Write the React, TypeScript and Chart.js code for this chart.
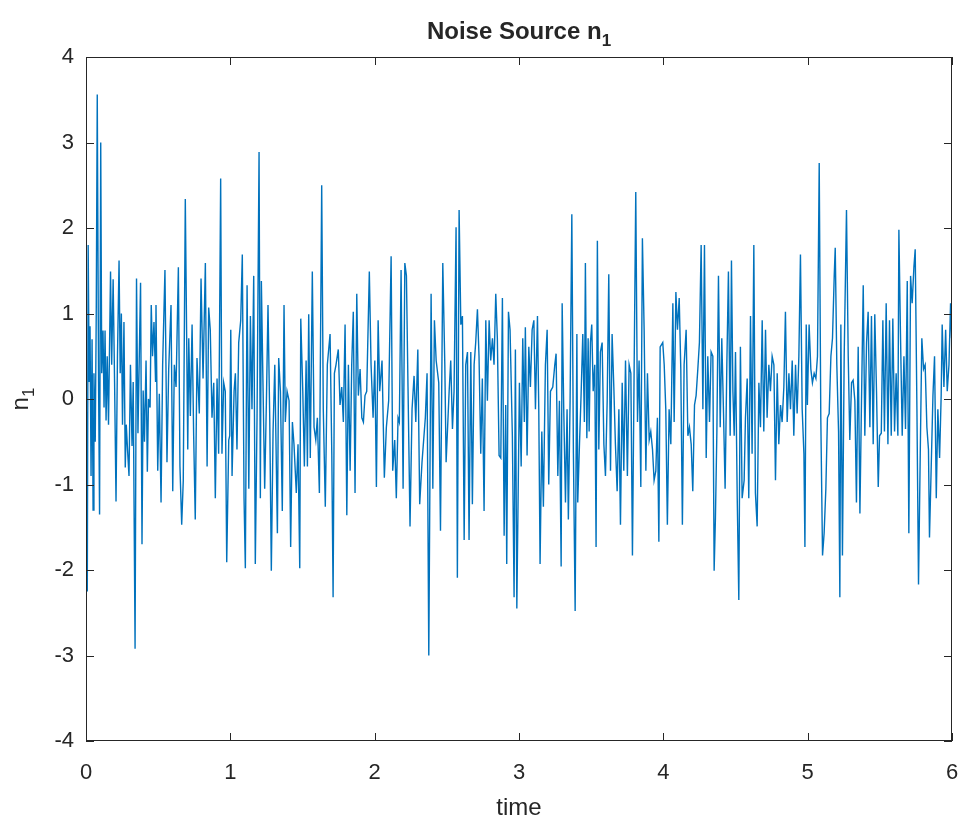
import React, { useEffect, useRef } from "react";
import { Chart, registerables } from "chart.js";

Chart.register(...registerables);

// ---- data ----
const timeS: number[] = [
  0.000, 0.009, 0.015, 0.022, 0.028, 0.035, 0.042, 0.049, 0.055, 0.064, 0.071, 0.078, 0.087, 0.094, 0.102, 0.109, 0.118, 0.125, 0.132, 0.139, 0.147, 0.156, 0.170, 0.178, 0.188, 0.198, 0.208, 0.218, 0.229, 0.237, 0.245, 0.253, 0.263, 0.272, 0.279, 0.288, 0.298, 0.308, 0.319, 0.327, 0.340, 0.350, 0.360, 0.378, 0.388, 0.396, 0.405, 0.416, 0.425, 0.433, 0.444, 0.452, 0.461, 0.471, 0.482,
  0.485, 0.497, 0.508, 0.520, 0.531, 0.547, 0.561, 0.573, 0.589, 0.601, 0.612, 0.624, 0.640, 0.651, 0.663, 0.674, 0.688, 0.705, 0.712, 0.723, 0.735, 0.746, 0.757, 0.769, 0.785, 0.797, 0.811, 0.827, 0.839, 0.850, 0.861, 0.873, 0.885, 0.896, 0.908, 0.919, 0.933, 0.942, 0.954, 0.965, 0.975, 0.989,
  0.996, 1.003, 1.012, 1.026, 1.035, 1.046, 1.058, 1.072, 1.083, 1.095, 1.104, 1.116, 1.128, 1.139, 1.150, 1.162, 1.173, 1.185, 1.199, 1.208, 1.215, 1.227, 1.238, 1.250, 1.261, 1.273, 1.284, 1.296, 1.308, 1.326, 1.335, 1.347, 1.360, 1.372, 1.381, 1.393, 1.407, 1.418, 1.430, 1.441, 1.457, 1.469, 1.481, 1.488,
  1.502, 1.513, 1.525, 1.534, 1.543, 1.554, 1.568, 1.580, 1.592, 1.603, 1.617, 1.633, 1.644, 1.658, 1.672, 1.691, 1.703, 1.712, 1.721, 1.732, 1.748, 1.760, 1.772, 1.783, 1.795, 1.807, 1.818, 1.830, 1.841, 1.852, 1.864, 1.876, 1.887, 1.899, 1.911, 1.922, 1.933, 1.945, 1.963, 1.975,
  1.989, 2.001, 2.012, 2.024, 2.035, 2.051, 2.067, 2.081, 2.097, 2.114, 2.125, 2.139, 2.150, 2.162, 2.171, 2.183, 2.197, 2.209, 2.220, 2.231, 2.245, 2.259, 2.273, 2.285, 2.299, 2.312, 2.328, 2.351, 2.363, 2.375, 2.391, 2.403, 2.414, 2.426, 2.444, 2.456, 2.472, 2.486, 2.495,
  2.516, 2.527, 2.539, 2.550, 2.564, 2.573, 2.585, 2.597, 2.608, 2.620, 2.631, 2.643, 2.654, 2.666, 2.677, 2.689, 2.700, 2.712, 2.723, 2.735, 2.746, 2.758, 2.770, 2.781, 2.793, 2.804, 2.816, 2.827, 2.839, 2.850, 2.862, 2.874, 2.885, 2.897, 2.908, 2.915, 2.927, 2.938, 2.954, 2.966, 2.975, 2.985,
  3.003, 3.015, 3.026, 3.037, 3.044, 3.056, 3.068, 3.079, 3.091, 3.103, 3.114, 3.128, 3.137, 3.146, 3.158, 3.169, 3.183, 3.195, 3.206, 3.218, 3.234, 3.248, 3.257, 3.269, 3.280, 3.292, 3.299, 3.310, 3.322, 3.333, 3.342, 3.354, 3.366, 3.377, 3.389, 3.401, 3.407, 3.419, 3.430, 3.442, 3.453, 3.460, 3.470, 3.479,
  3.486, 3.495, 3.504, 3.514, 3.525, 3.534, 3.543, 3.553, 3.564, 3.576, 3.588, 3.599, 3.611, 3.622, 3.634, 3.645, 3.657, 3.668, 3.680, 3.692, 3.703, 3.715, 3.726, 3.738, 3.751, 3.763, 3.775, 3.786, 3.798, 3.809, 3.821, 3.832, 3.844, 3.855, 3.867, 3.879, 3.890, 3.902, 3.913, 3.925, 3.936, 3.948, 3.959, 3.969, 3.978,
  3.996, 4.006, 4.017, 4.028, 4.040, 4.052, 4.066, 4.075, 4.087, 4.098, 4.110, 4.121, 4.132, 4.144, 4.158, 4.170, 4.181, 4.193, 4.204, 4.216, 4.227, 4.239, 4.250, 4.262, 4.274, 4.285, 4.297, 4.308, 4.320, 4.331, 4.343, 4.352, 4.361, 4.371, 4.382, 4.394, 4.405, 4.417, 4.428, 4.440, 4.451, 4.463, 4.472, 4.482,
  4.491, 4.500, 4.512, 4.523, 4.534, 4.546, 4.560, 4.569, 4.581, 4.592, 4.604, 4.615, 4.627, 4.638, 4.650, 4.662, 4.673, 4.685, 4.696, 4.708, 4.719, 4.731, 4.742, 4.754, 4.766, 4.777, 4.789, 4.800, 4.812, 4.823, 4.835, 4.846, 4.858, 4.870, 4.881, 4.893, 4.904, 4.916, 4.927, 4.939, 4.950, 4.962, 4.974, 4.981, 4.990,
  4.998, 5.010, 5.022, 5.033, 5.045, 5.057, 5.068, 5.080, 5.091, 5.103, 5.114, 5.126, 5.137, 5.149, 5.161, 5.172, 5.184, 5.191, 5.202, 5.214, 5.223, 5.230, 5.241, 5.253, 5.269, 5.281, 5.292, 5.304, 5.315, 5.327, 5.338, 5.350, 5.362, 5.373, 5.385, 5.396, 5.408, 5.419, 5.431, 5.442, 5.454, 5.465, 5.477, 5.489,
  5.498, 5.510, 5.521, 5.532, 5.544, 5.556, 5.567, 5.579, 5.590, 5.602, 5.613, 5.625, 5.632, 5.643, 5.655, 5.667, 5.678, 5.690, 5.701, 5.713, 5.724, 5.736, 5.745, 5.757, 5.768, 5.780, 5.791, 5.803, 5.814, 5.826, 5.837, 5.844, 5.856, 5.868, 5.879, 5.891, 5.902, 5.914, 5.925, 5.932, 5.944, 5.956, 5.967, 5.979, 5.990, 5.997,
];

const n1: number[] = [
  0.55, -2.25, 1.8, 0.2, 0.85, -0.9, 0.7, -1.3, 0.3, -0.5, 1.0, 3.56, 0.2, -1.35, 3.0, 0.3, 0.8, -0.1, 0.8, -0.25, 0.5, -0.3, 1.49, 0.4, 1.4, 0.2, -1.2, 0.5, 1.62, 0.3, 1.0, -0.3, 0.9, -0.8, -0.3, -0.6, -0.9, 0.4, -0.55, 0.2, -2.92, 1.41, -0.4, 1.36, -1.7, 0.1, -0.5, 0.45, -0.85, 0.0, -0.1, 1.1, 0.5, 0.9, 0.2,
  1.10, -0.84, 0.06, -1.21, 0.40, 1.51, -0.74, 0.35, 1.10, -1.08, 0.40, 0.14, 1.54, -0.79, -1.47, -0.95, 2.34, -0.59, 0.71, -0.20, 0.87, -0.43, -1.41, 0.48, -0.17, 1.41, 0.24, 1.59, -0.79, 1.07, 0.81, -0.22, 0.19, -1.16, 0.24, -0.64, 2.58, -0.64, 0.19, 0.09, -1.91, -0.48,
  -0.43, 0.81, -0.90, 0.09, 0.30, -0.59, 0.66, 0.92, 1.69, -1.16, -1.98, 1.33, -1.05, 0.97, -0.12, 1.44, -1.93, -0.22, 2.89, -1.16, 1.38, 0.09, -1.05, -0.02, 1.10, -0.22, -2.01, -0.38, 0.40, -1.57, 0.48, 0.09, -1.31, 1.10, -0.27, 0.09, -0.02, -1.73, -0.27, -0.53, -1.10, -0.53, -1.98, 0.94,
  0.09, -0.79, 0.45, -0.79, 0.99, -0.69, 1.49, -0.33, -0.48, -0.22, -1.10, 2.50, -0.12, -1.26, 0.40, 0.76, -0.64, -2.32, 0.30, 0.40, 0.58, -0.07, 0.14, -0.27, 0.87, -1.36, 0.40, -0.84, 0.40, 1.02, -1.10, 1.23, 0.04, 0.35, -0.22, -0.27, 0.04, 0.09, 1.49, 0.40,
  -0.22, 0.45, -1.03, 0.92, 0.09, 0.45, -0.92, -0.33, -0.02, 1.67, -0.84, -0.48, -1.16, -0.22, -0.27, 1.51, -1.05, 1.59, 1.44, 0.14, -1.49, -0.12, 0.27, -0.27, 0.58, -1.23, -0.74, -0.22, 0.30, -3.00, 1.23, -1.05, 0.92, 0.45, 0.19, -1.54, 1.59, 0.40, -0.74,
  0.09, 0.45, -0.35, 0.09, 2.01, -2.09, 2.21, 0.87, 0.97, -1.65, 0.40, 0.55, -1.65, 0.55, -1.23, 0.40, 0.66, 1.05, 0.50, -0.64, 0.24, -1.31, 0.92, -0.02, 0.92, 0.45, 0.71, 0.40, 1.23, 0.71, -0.66, -0.69, 1.18, -1.60, -0.07, -1.93, 1.02, 0.81, -0.43, -2.32, 0.58, -2.45,
  0.19, -0.79, 0.71, -0.27, 0.84, -0.66, 0.61, 0.14, 0.81, 0.92, -0.12, 0.97, -0.12, -1.93, -0.38, -1.26, 0.40, 0.81, -1.00, 0.09, 0.14, 0.40, 0.53, -0.90, -0.02, -1.96, 1.12, -0.12, -1.21, -0.12, -1.41, -0.02, 2.16, -0.64, -2.48, 0.76, -1.21, -0.53, 0.04, 0.76, -0.27, 1.59, -0.46, 0.71,
  -0.38, 0.66, 0.87, 0.09, 0.40, -1.73, 1.85, -0.59, 0.55, 0.66, -0.53, -0.90, -0.02, 1.46, -0.84, 0.76, 0.14, -0.53, -1.08, -0.12, -1.47, 0.19, -0.84, 0.45, -0.90, 0.40, 0.30, -1.83, 0.40, 2.42, -0.27, 0.45, -1.03, 1.88, 0.81, -0.84, 0.30, -0.48, -0.38, -0.59, -0.95, -0.84, -0.22, -1.67, 0.61,
  0.66, 0.40, -0.12, -1.47, -0.12, -0.53, 1.12, -0.27, 1.25, 0.81, 1.18, 0.35, -1.47, 0.40, 0.81, -0.43, -0.33, -0.53, -1.08, -0.07, 0.04, 0.35, 0.66, 1.80, -0.12, 1.80, -0.69, 0.50, -0.27, 0.55, 0.50, -2.01, -1.39, -0.38, 1.44, -0.33, 0.71, -0.17, -1.05, 0.40, 1.49, -0.43, 1.62, 0.09,
  -0.43, 0.55, -1.16, -2.35, 0.61, -1.16, -0.95, -0.22, 0.24, -1.16, 0.97, -0.64, 1.80, -1.10, -1.49, 0.19, -0.33, 0.92, -0.38, 0.81, -0.22, 0.40, 0.09, 0.50, 0.40, -0.95, 0.30, -0.53, -0.07, -0.27, 0.14, 1.02, -0.27, 0.30, -0.12, 0.45, -0.43, 0.40, -0.17, 0.50, 1.69, -0.12, -0.64, -1.73, 0.87,
  -0.07, 0.87, 0.35, 0.19, 0.30, 0.24, 0.50, 2.76, -0.22, -1.83, -1.57, -1.05, -0.22, -0.17, 0.50, 0.71, 1.44, 1.77, 0.40, -0.38, -2.32, 0.87, -1.83, 0.50, 2.21, 0.50, -0.48, 0.19, 0.22, -0.02, -1.21, 0.61, -1.34, -0.02, 1.33, -0.43, 0.66, 1.02, -0.33, 0.97, -0.53, 0.99, 0.09, -1.03,
  -0.43, -0.40, 0.92, -0.38, 1.12, -0.53, 0.92, -0.43, 0.94, -0.38, 0.30, -0.43, 1.98, 0.76, -0.43, 0.50, -0.35, 1.38, -1.57, 1.44, 1.12, 1.54, 1.75, -0.12, -2.17, -0.64, 0.71, 0.35, 0.40, -0.33, -0.59, -1.62, -0.79, 0.04, 0.50, -1.16, -0.12, -0.69, 0.04, 0.87, 0.14, 0.81, 0.09, 0.40, 1.12, 0.71,
];

const xTicks: number[] = [0, 1, 2, 3, 4, 5, 6];
const yTicks: number[] = [-4, -3, -2, -1, 0, 1, 2, 3, 4];
const titleMain = "Noise Source n";
const titleSub = "1";
const xLabel = "time";
const yLabelMain = "n";
const yLabelSub = "1";

const FONT = "'Liberation Sans', Arial, Helvetica, sans-serif";
const INK = "#262626";
const LINE = "#0072BD";

export default function App() {
  const ref = useRef<HTMLCanvasElement | null>(null);

  useEffect(() => {
    const canvas = ref.current;
    if (!canvas) return;
    const count = Math.min(timeS.length, n1.length);
    const points = [] as { x: number; y: number }[];
    for (let i = 0; i < count; i++) points.push({ x: timeS[i], y: n1[i] });

    const framePlugin = {
      id: "matlabFrame",
      afterDraw(chart: any) {
        const { ctx, chartArea: a, scales } = chart;
        const xs = scales.x;
        const ys = scales.y;
        ctx.save();
        ctx.strokeStyle = INK;
        ctx.lineWidth = 1;
        ctx.strokeRect(Math.round(a.left) + 0.5, Math.round(a.top) + 0.5, Math.round(a.right - a.left) - 1, Math.round(a.bottom - a.top) - 1);
        const tl = 8;
        ctx.beginPath();
        for (const v of xTicks) {
          const px = Math.round(xs.getPixelForValue(v)) + 0.5;
          ctx.moveTo(px, a.bottom);
          ctx.lineTo(px, a.bottom - tl);
          ctx.moveTo(px, a.top);
          ctx.lineTo(px, a.top + tl);
        }
        for (const v of yTicks) {
          const py = Math.round(ys.getPixelForValue(v)) + 0.5;
          ctx.moveTo(a.left, py);
          ctx.lineTo(a.left + tl, py);
          ctx.moveTo(a.right, py);
          ctx.lineTo(a.right - tl, py);
        }
        ctx.stroke();

        ctx.fillStyle = INK;
        // title with subscript
        const cx = (a.left + a.right) / 2;
        ctx.font = `bold 24px ${FONT}`;
        const wMain = ctx.measureText(titleMain).width;
        ctx.font = `bold 17px ${FONT}`;
        const wSub = ctx.measureText(titleSub).width;
        const start = cx - (wMain + wSub) / 2;
        ctx.textBaseline = "alphabetic";
        ctx.textAlign = "left";
        ctx.font = `bold 24px ${FONT}`;
        ctx.fillText(titleMain, start, 39);
        ctx.font = `bold 17px ${FONT}`;
        ctx.fillText(titleSub, start + wMain, 46);

        // x label
        ctx.font = `24px ${FONT}`;
        ctx.textAlign = "center";
        ctx.fillText(xLabel, cx, 815);

        // y label, rotated, with subscript
        const cy = (a.top + a.bottom) / 2;
        ctx.save();
        ctx.translate(28, cy);
        ctx.rotate(-Math.PI / 2);
        ctx.font = `24px ${FONT}`;
        const wn = ctx.measureText(yLabelMain).width;
        ctx.font = `17px ${FONT}`;
        const ws = ctx.measureText(yLabelSub).width;
        ctx.textAlign = "left";
        ctx.font = `24px ${FONT}`;
        ctx.fillText(yLabelMain, -(wn + ws) / 2, 0);
        ctx.font = `17px ${FONT}`;
        ctx.fillText(yLabelSub, -(wn + ws) / 2 + wn, 6);
        ctx.restore();

        ctx.restore();
      },
    };

    const chart = new Chart(canvas, {
      type: "line",
      data: {
        datasets: [
          {
            data: points,
            borderColor: LINE,
            borderWidth: 1.4,
            pointRadius: 0,
            tension: 0,
            fill: false,
          },
        ],
      },
      options: {
        animation: false,
        responsive: false,
        devicePixelRatio: 1,
        layout: { autoPadding: false, padding: { top: 57, right: 10, left: 0, bottom: 0 } },
        plugins: { legend: { display: false }, title: { display: false }, tooltip: { enabled: false } },
        scales: {
          x: {
            type: "linear",
            min: 0,
            max: 6,
            offset: false,
            afterBuildTicks(scale: any) {
              scale.ticks = xTicks.map((v) => ({ value: v }));
            },
            ticks: {
              font: { family: FONT, size: 22 },
              color: INK,
              padding: 19,
              maxRotation: 0,
              autoSkip: false,
              callback: (v: any) => String(v),
            },
            grid: { display: false, drawTicks: false },
            border: { display: false },
            afterFit(scale: any) {
              scale.height = 80;
              scale.paddingLeft = 0;
              scale.paddingRight = 0;
            },
          },
          y: {
            type: "linear",
            min: -4,
            max: 4,
            afterBuildTicks(scale: any) {
              scale.ticks = yTicks.map((v) => ({ value: v }));
            },
            ticks: {
              font: { family: FONT, size: 22 },
              color: INK,
              padding: 12,
              autoSkip: false,
              callback: (v: any) => String(v),
            },
            grid: { display: false, drawTicks: false },
            border: { display: false },
            afterFit(scale: any) {
              scale.width = 86;
              scale.paddingTop = 0;
              scale.paddingBottom = 0;
            },
          },
        },
      },
      plugins: [framePlugin],
    } as any);

    return () => chart.destroy();
  }, []);

  return (
    <div style={{ position: "absolute", left: 0, top: 0, width: 962, height: 821, background: "#fff" }}>
      <canvas ref={ref} width={962} height={821} style={{ width: 962, height: 821, display: "block" }} />
    </div>
  );
}
